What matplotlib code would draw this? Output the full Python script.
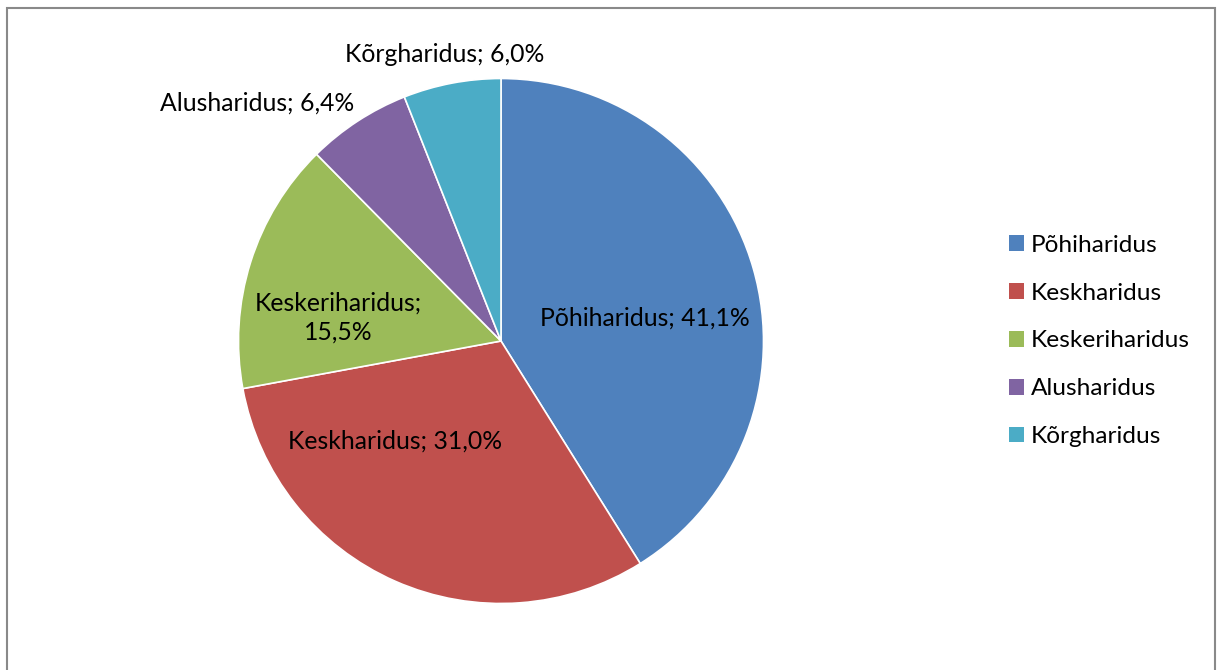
import matplotlib
matplotlib.use("Agg")
import matplotlib.pyplot as plt
from matplotlib.patches import Rectangle, Patch

plt.rcParams["font.family"] = ["Lato", "DejaVu Sans"]

# Education level shares (%)
labels = ["Põhiharidus", "Keskharidus", "Keskeriharidus", "Alusharidus", "Kõrgharidus"]
values = [41.1, 31.0, 15.5, 6.4, 6.0]
colors = ["#4F81BD", "#C0504D", "#9BBB59", "#8064A2", "#4BACC6"]

# label anchor points in pie units (radius = 1)
label_pos = [(0.549, 0.088), (-0.404, -0.381), (-0.621, 0.088), (-0.930, 0.907), (-0.213, 1.090)]
label_text = [
    "Põhiharidus; 41,1%",
    "Keskharidus; 31,0%",
    "Keskeriharidus;\n15,5%",
    "Alusharidus; 6,4%",
    "Kõrgharidus; 6,0%",
]

W, H = 1218, 670
fig = plt.figure(figsize=(W / 100, H / 100), dpi=100)

# outer chart frame
fig.patches.append(Rectangle((7 / W, -0.05), (1215 - 7) / W, 1.05 - 8 / H,
                             transform=fig.transFigure, fill=False,
                             edgecolor="#898989", linewidth=1.5))

cx, cy, r = 501, H - 341, 262.5
ax = fig.add_axes([(cx - r) / W, (cy - r) / H, 2 * r / W, 2 * r / H])
ax.pie(values, colors=colors, startangle=90, counterclock=False,
       wedgeprops=dict(edgecolor="white", linewidth=1.2))
ax.set_xlim(-1, 1)
ax.set_ylim(-1, 1)
ax.set_aspect("equal")
ax.axis("off")

for (x, y), t in zip(label_pos, label_text):
    ax.text(x, y, t, ha="center", va="center", fontsize=17.8, color="black",
            linespacing=1.3, clip_on=False)

handles = [Patch(facecolor=c, edgecolor="none") for c in colors]
fig.legend(handles, labels, loc="center left", bbox_to_anchor=(997 / W, (H - 341) / H),
           frameon=False, fontsize=17.6, handlelength=0.6, handleheight=0.6,
           handletextpad=0.3, labelspacing=1.1, borderpad=0)

fig.savefig("out.png", dpi=100)
